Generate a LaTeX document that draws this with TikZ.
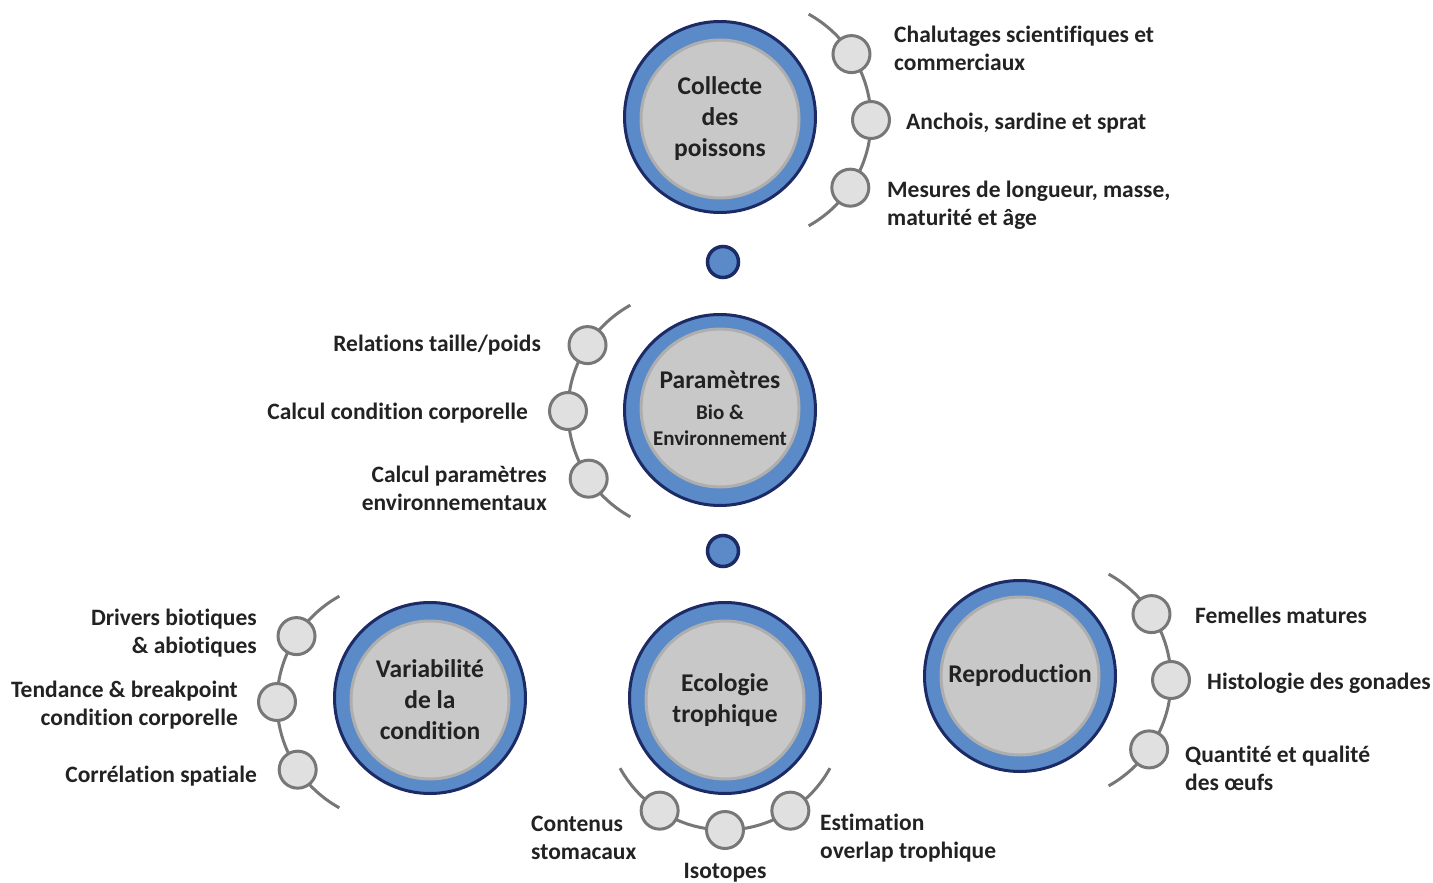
\documentclass[tikz,border=0pt]{standalone}
\usepackage{fontspec}
\setmainfont{Carlito}[Ligatures = NoCommon]
\usepackage{tikz}
\definecolor{ringblue}{HTML}{5A8AC8}
\definecolor{navy}{HTML}{1C2A66}
\definecolor{coregrey}{HTML}{C8C8C8}
\definecolor{coreedge}{HTML}{AEAEAE}
\definecolor{subfill}{HTML}{E0E0E0}
\definecolor{subedge}{HTML}{777777}
\definecolor{txt}{HTML}{222222}

\begin{document}
\begin{tikzpicture}[x = 1pt, y = -1pt,
    ring/.style = {circle, draw = navy, line width = 3pt, fill = ringblue, minimum size = 191pt, inner sep = 0pt},
    core/.style = {circle, draw = coreedge, line width = 3pt, fill = coregrey, minimum size = 158pt, inner sep = 0pt,
      align = center, text = txt, font = \fontsize{25.5}{31}\selectfont\bfseries},
    link/.style = {circle, draw = navy, line width = 3.5pt, fill = ringblue, minimum size = 31pt, inner sep = 0pt},
    sub/.style = {circle, draw = subedge, line width = 3pt, fill = subfill, minimum size = 37pt, inner sep = 0pt},
    rim/.style = {draw = subedge, line width = 3pt},
    lbl/.style = {inner sep = 0pt, text = txt, font = \fontsize{23.5}{28}\selectfont\bfseries}]
          \useasboundingbox (0,0) rectangle (1433,883);

          % main steps
          \node[ring] (collecte) at (720,117) {};
          \node[core, yshift = -2pt] at (collecte) {Collecte\\des\\poissons};
          \node[ring] (params) at (720,410) {};
          \node[core, yshift = 2pt] at (params) {Paramètres\\[0pt]{\fontsize{21}{26}\selectfont Bio \&}\\[-5pt]{\fontsize{21}{26}\selectfont Environnement}};
          \node[ring] (variab) at (430,698) {};
          \node[core, yshift = -2pt] at (variab) {Variabilité\\de la\\condition};
          \node[ring] (ecolo) at (725,698) {};
          \node[core, yshift = -2pt] at (ecolo) {Ecologie\\trophique};
          \node[ring] (repro) at (1020,676) {};
          \node[core] at (repro) {Reproduction};

          \node[link] (link1) at (723,262) {};
          \node[link] (link2) at (723,551) {};

          % collecte
          \coordinate (cc) at (750,120);
          \draw[rim] (cc) ++(-61:121) arc[start angle = -61, end angle = 61, radius = 121];
          \path (cc) ++(-33:121) node[sub] (c1) {};
          \path (cc) ++(0:121) node[sub] (c2) {};
          \path (cc) ++(34:121) node[sub] (c3) {};
          \node[lbl, anchor = west, align = left] (lc1) at (894,48) {Chalutages scientifiques et\\commerciaux};
          \node[lbl, anchor = west] (lc2) at (906,123) {Anchois, sardine et sprat};
          \node[lbl, anchor = west, align = left] (lc3) at (887,205) {Mesures de longueur, masse,\\maturité et âge};

          % parametres
          \coordinate (pc) at (689,411);
          \draw[rim] (pc) ++(119:121) arc[start angle = 119, end angle = 241, radius = 121];
          \path (pc) ++(213:121) node[sub] (p1) {};
          \path (pc) ++(180:121) node[sub] (p2) {};
          \path (pc) ++(146:121) node[sub] (p3) {};
          \node[lbl, anchor = east] (lp1) at (541,345) {Relations taille/poids};
          \node[lbl, anchor = east] (lp2) at (528,413) {Calcul condition corporelle};
          \node[lbl, anchor = east, align = right] (lp3) at (547,488) {Calcul paramètres\\environnementaux};

          % variabilite
          \coordinate (vc) at (398,702);
          \draw[rim] (vc) ++(119:121) arc[start angle = 119, end angle = 241, radius = 121];
          \path (vc) ++(213:121) node[sub] (v1) {};
          \path (vc) ++(180:121) node[sub] (v2) {};
          \path (vc) ++(146:121) node[sub] (v3) {};
          \node[lbl, anchor = east, align = right] (lv1) at (257,633) {Drivers biotiques\\\& abiotiques};
          \node[lbl, anchor = east, align = right] (lv2) at (238,705) {Tendance \& breakpoint\\condition corporelle};
          \node[lbl, anchor = east] (lv3) at (257,776) {Corrélation spatiale};

          % ecologie
          \coordinate (ec) at (725,710);
          \draw[rim] (ec) ++(29:120) arc[start angle = 29, end angle = 151, radius = 120];
          \path (ec) ++(123:120) node[sub] (e1) {};
          \path (ec) ++(90:120) node[sub] (e2) {};
          \path (ec) ++(57:120) node[sub] (e3) {};
          \node[lbl, anchor = west, align = left] (le1) at (531,838) {Contenus\\stomacaux};
          \node[lbl] (le2) at (725,873) {Isotopes};
          \node[lbl, anchor = west, align = left] (le3) at (820,838) {Estimation\\overlap trophique};

          % reproduction
          \coordinate (rc) at (1050,680);
          \draw[rim] (rc) ++(-61:121) arc[start angle = -61, end angle = 61, radius = 121];
          \path (rc) ++(-33:121) node[sub] (r1) {};
          \path (rc) ++(0:121) node[sub] (r2) {};
          \path (rc) ++(35:121) node[sub] (r3) {};
          \node[lbl, anchor = west] (lr1) at (1195,615) {Femelles matures};
          \node[lbl, anchor = west] (lr2) at (1207,683) {Histologie des gonades};
          \node[lbl, anchor = west, align = left] (lr3) at (1185,768) {Quantité et qualité\\des œufs};
        \end{tikzpicture}
\end{document}
